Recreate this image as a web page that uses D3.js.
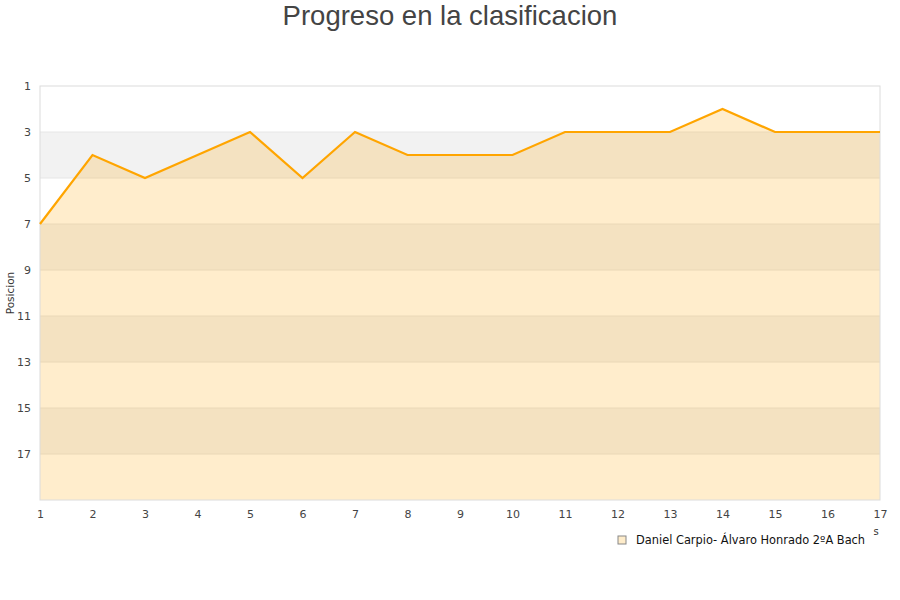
<!DOCTYPE html>
<html>
<head>
<meta charset="utf-8">
<script src="https://cdn.jsdelivr.net/npm/d3@7"></script>
<style>
	body { margin: 0; background: #fff; }
	svg text { font-family: "DejaVu Sans", sans-serif; }
</style>
</head>
<body>
<div id="chart-container"></div>
<script>
const jornadas = [1, 2, 3, 4, 5, 6, 7, 8, 9, 10, 11, 12, 13, 14, 15, 16, 17];
const posiciones = [7, 4, 5, 4, 3, 5, 3, 4, 4, 4, 3, 3, 3, 2, 3, 3, 3];
const yTicks = [1, 3, 5, 7, 9, 11, 13, 15, 17];
const serieName = "Daniel Carpio- Álvaro Honrado 2ºA Bach";

const width = 900;
const height = 600;
const margin = { top: 86, right: 20, bottom: 100, left: 40 };

const svg = d3
	.select("#chart-container")
	.append("svg")
	.attr("width", width)
	.attr("height", height);

// title
svg.append("text")
	.attr("x", width / 2)
	.attr("y", 25)
	.attr("text-anchor", "middle")
	.style("font-family", "'Liberation Sans', Arial, sans-serif")
	.style("font-size", "27.5px")
	.style("fill", "#444")
	.text("Progreso en la clasificacion");

const x = d3
	.scaleLinear()
	.domain([1, 17])
	.range([margin.left, width - margin.right]);

const y = d3
	.scaleLinear()
	.domain([1, 19])
	.range([margin.top, height - margin.bottom]);

// alternating bands
const bands = d3.range(1, 19, 2);
svg.selectAll(".band")
	.data(bands)
	.enter()
	.append("rect")
	.attr("x", x(1))
	.attr("y", (d) => y(d))
	.attr("width", x(17) - x(1))
	.attr("height", (d) => y(d + 2) - y(d))
	.attr("fill", (d, i) => (i % 2 === 1 ? "#f2f2f2" : "#ffffff"));

// grid lines
svg.selectAll(".grid")
	.data(yTicks.slice(1))
	.enter()
	.append("line")
	.attr("x1", x(1))
	.attr("x2", x(17))
	.attr("y1", (d) => y(d))
	.attr("y2", (d) => y(d))
	.attr("stroke", "#e6e6e6")
	.attr("stroke-width", 1);

const pts = jornadas.map((j, i) => [j, posiciones[i]]);

const area = d3
	.area()
	.x((d) => x(d[0]))
	.y0(y(19))
	.y1((d) => y(d[1]));

svg.append("path")
	.datum(pts)
	.attr("fill", "#ffa500")
	.attr("fill-opacity", 0.2)
	.attr("d", area);

// plot border
svg.append("rect")
	.attr("x", x(1))
	.attr("y", y(1))
	.attr("width", x(17) - x(1))
	.attr("height", y(19) - y(1))
	.attr("fill", "none")
	.attr("stroke", "#dcdcdc");

const line = d3
	.line()
	.x((d) => x(d[0]))
	.y((d) => y(d[1]));

svg.append("path")
	.datum(pts)
	.attr("fill", "none")
	.attr("stroke", "#ffa500")
	.attr("stroke-width", 2.2)
	.attr("d", line);

// axes
const yAxis = svg
	.append("g")
	.attr("transform", `translate(${margin.left},0)`)
	.call(d3.axisLeft(y).tickValues(yTicks).tickSize(0).tickPadding(9));
yAxis.select(".domain").remove();
yAxis.selectAll("text").style("font-size", "11px").style("fill", "#444");

const xAxis = svg
	.append("g")
	.attr("transform", `translate(0,${y(19)})`)
	.call(d3.axisBottom(x).tickValues(jornadas).tickFormat(d3.format("d")).tickSize(0).tickPadding(10));
xAxis.select(".domain").remove();
xAxis.selectAll("text").style("font-size", "11px").style("fill", "#444");

// axis titles
svg.append("text")
	.attr("transform", "rotate(-90)")
	.attr("x", -293)
	.attr("y", 14)
	.attr("text-anchor", "middle")
	.style("font-size", "10.5px")
	.style("fill", "#333")
	.text("Posicion");

svg.append("text")
	.attr("x", 876)
	.attr("y", 535)
	.attr("text-anchor", "middle")
	.style("font-size", "10px")
	.style("fill", "#333")
	.text("s");

// legend
const legend = svg.append("g").attr("transform", "translate(618,536)");
legend.append("rect")
	.attr("width", 8)
	.attr("height", 8)
	.attr("fill", "#feecca")
	.attr("stroke", "#888")
	.attr("stroke-width", 1);
legend.append("text")
	.attr("x", 18)
	.attr("y", 8)
	.style("font-size", "11.4px")
	.style("fill", "#111")
	.text(serieName);
</script>
</body>
</html>
